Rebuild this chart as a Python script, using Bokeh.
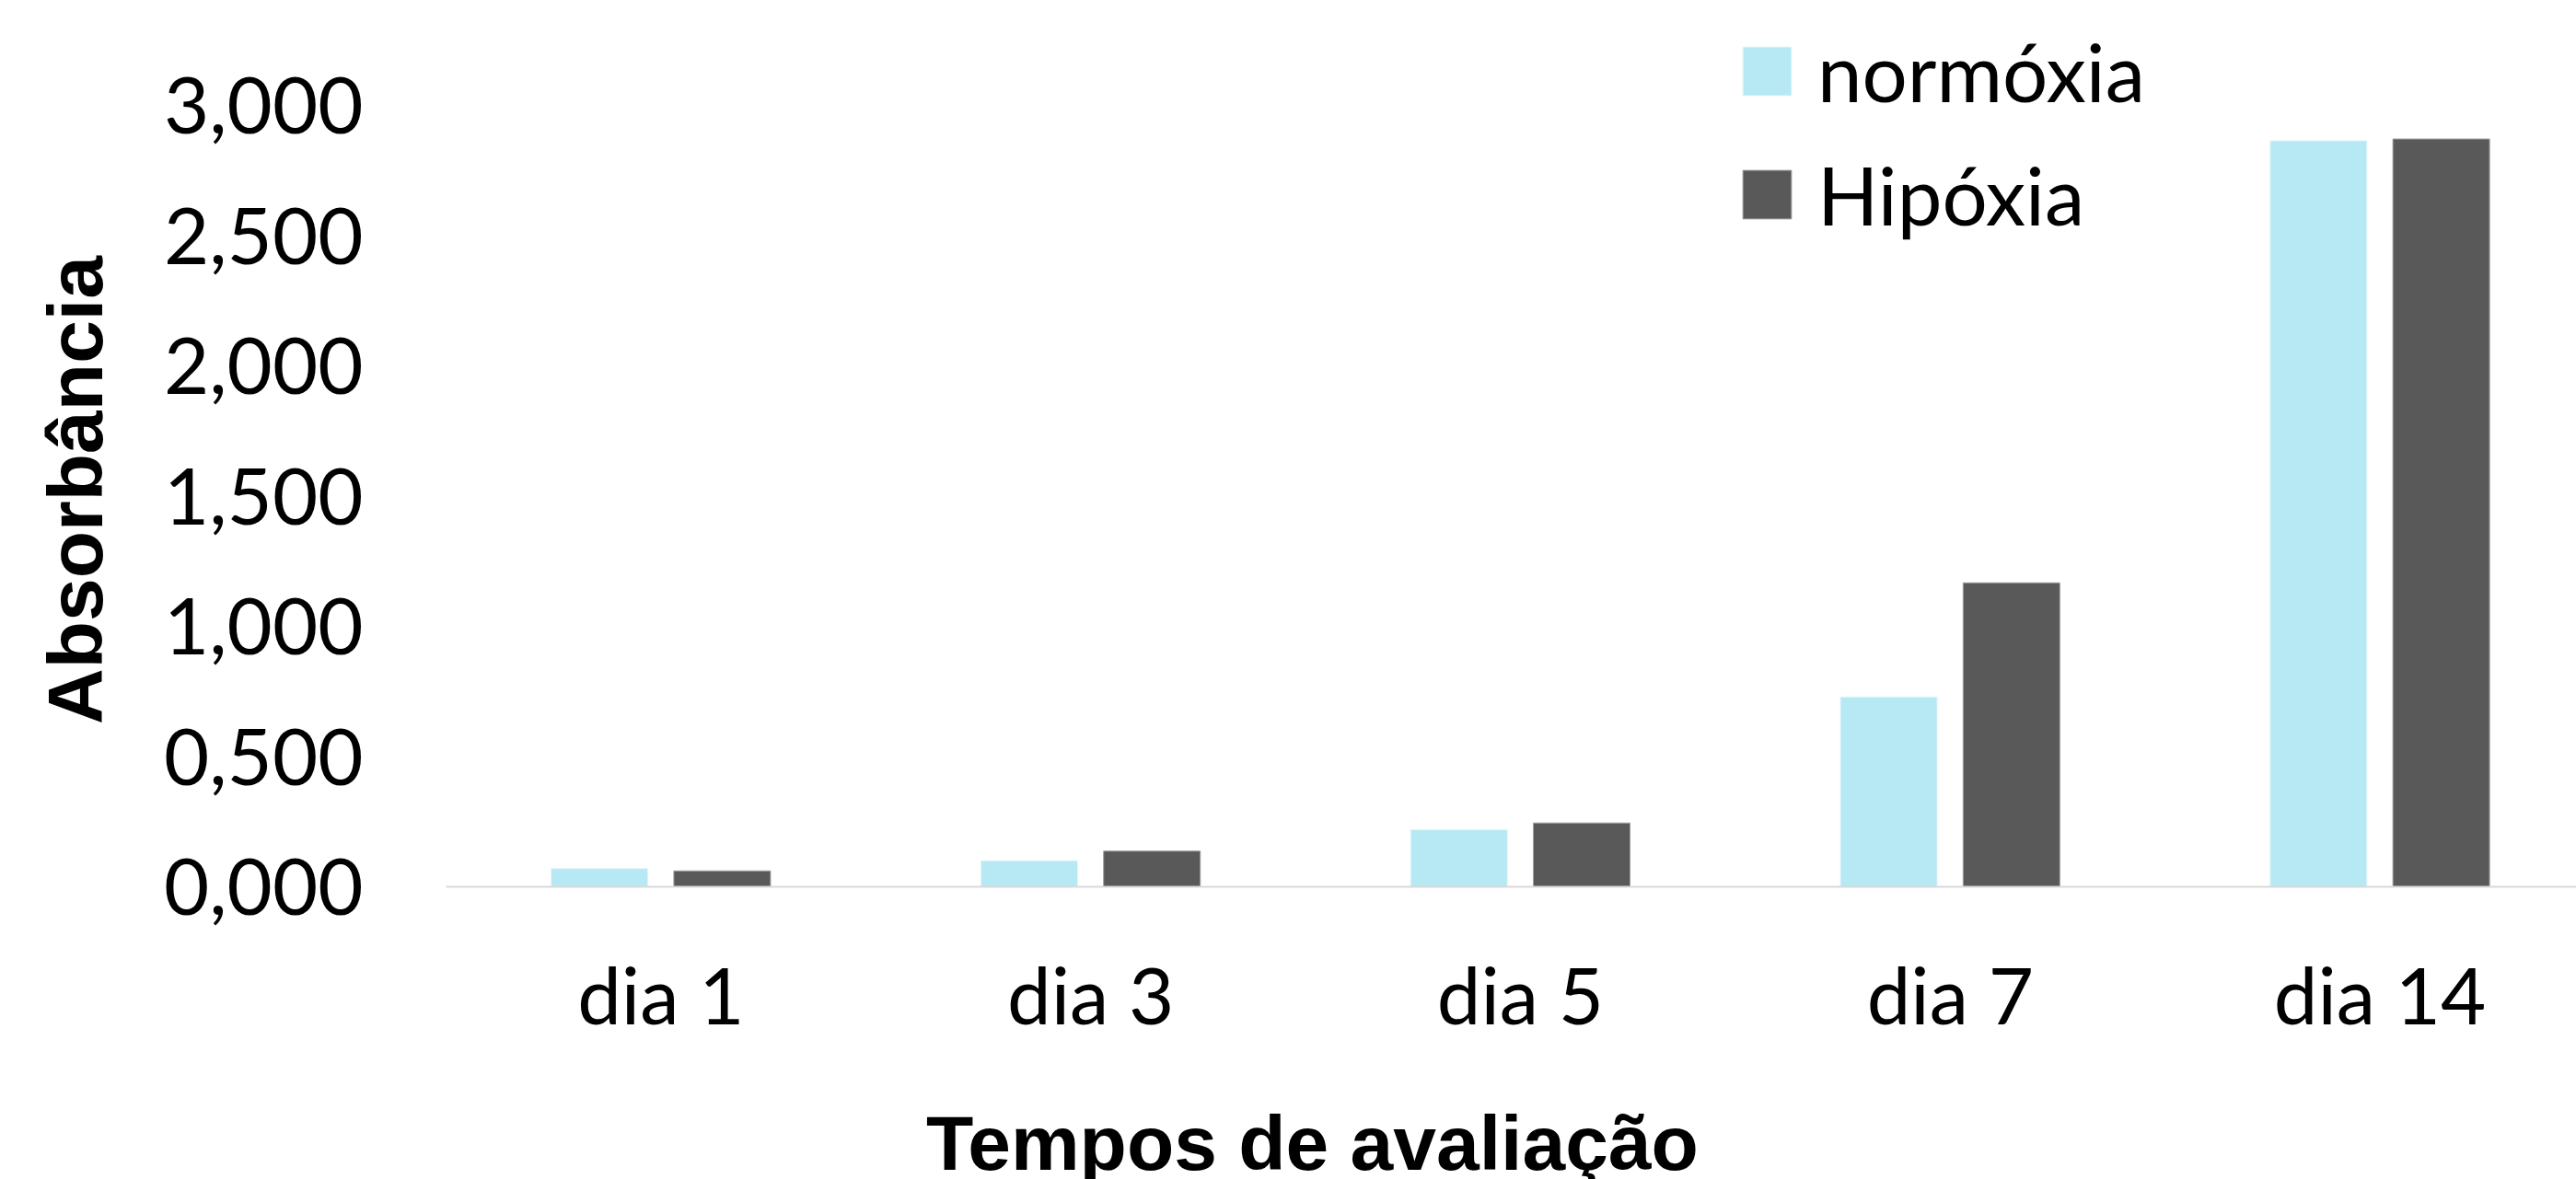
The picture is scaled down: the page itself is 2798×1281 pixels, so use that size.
import numpy as np
from bokeh.plotting import figure
from bokeh.models import ColumnDataSource, Range1d, FixedTicker, Legend, LegendItem, Label
from bokeh.transform import dodge
from bokeh.embed import file_html
from bokeh.resources import INLINE

# ---- data ----
categories = ["dia 1", "dia 3", "dia 5", "dia 7", "dia 14"]
normoxia = [0.070, 0.100, 0.219, 0.729, 2.864]
hipoxia = [0.061, 0.137, 0.245, 1.167, 2.871]
series_names = ["normóxia", "Hipóxia"]
y_ticks = [0.0, 0.5, 1.0, 1.5, 2.0, 2.5, 3.0]
y_tick_labels = ["0,000", "0,500", "1,000", "1,500", "2,000", "2,500", "3,000"]
x_title = "Tempos de avaliação"
y_title = "Absorbância"

pos = list(range(len(categories)))
src = ColumnDataSource(dict(pos=pos, normoxia=normoxia, hipoxia=hipoxia))

# ---- layout geometry (pixels) ----
W, H = 2798, 1281
PLOT_LEFT = 484        # pixel column where the category area starts
BASE_Y = 963           # pixel row of value 0
PX_PER_CAT = 466.8
PX_PER_UNIT = 283.0
X0 = -0.5 - PLOT_LEFT / PX_PER_CAT
X1 = -0.5 + (W - PLOT_LEFT) / PX_PER_CAT
Y0 = -(H - BASE_Y) / PX_PER_UNIT
Y1 = BASE_Y / PX_PER_UNIT

def px_to_x(px):
    return X0 + px / PX_PER_CAT

def py_to_y(py):
    return (BASE_Y - py) / PX_PER_UNIT

p = figure(width=W, height=H, output_backend="svg", toolbar_location=None,
           x_range=Range1d(X0, X1), y_range=Range1d(Y0, Y1),
           min_border_left=0, min_border_right=0, min_border_top=0,
           min_border_bottom=0, background_fill_color="white",
           border_fill_color="white", outline_line_color=None)

BLUE = "#B6E9F3"
DARK = "#595959"
r1 = p.vbar(x=dodge("pos", -0.143, range=p.x_range), top="normoxia", width=0.225,
            source=src, fill_color=BLUE, line_color="#E3F6FA", line_width=1)
r2 = p.vbar(x=dodge("pos", 0.1425, range=p.x_range), top="hipoxia", width=0.225,
            source=src, fill_color=DARK, line_color="#A0A0A0", line_width=1)

p.xgrid.visible = False
p.ygrid.visible = False

# x axis (drawn at value 0)
xa = p.xaxis[0]
xa.fixed_location = 0
xa.bounds = (-0.5, X1)
xa.ticker = FixedTicker(ticks=pos)
xa.major_label_overrides = {i: c for i, c in zip(pos, categories)}
xa.axis_line_color = "#D9D9D9"
xa.axis_line_width = 2
xa.major_tick_line_color = None
xa.minor_tick_line_color = None
xa.major_label_text_font = "Lato"
xa.major_label_text_font_size = "85px"
xa.major_label_text_color = "black"
xa.major_label_standoff = 59

# y axis (drawn at the left edge of the category area)
ya = p.yaxis[0]
ya.fixed_location = -0.5
ya.bounds = (0, y_ticks[-1])
ya.ticker = FixedTicker(ticks=y_ticks)
ya.major_label_overrides = {t: l for t, l in zip(y_ticks, y_tick_labels)}
ya.axis_line_color = None
ya.major_tick_line_color = None
ya.minor_tick_line_color = None
ya.major_label_text_font = "Lato"
ya.major_label_text_font_size = "85px"
ya.major_label_text_color = "black"
ya.major_label_standoff = 84

# axis titles
tx = Label(x=px_to_x(1425), y=py_to_y(1241), text=x_title, text_align="center",
           text_baseline="alphabetic", text_font="Liberation Sans",
           text_font_style="bold", text_font_size="84px", text_color="black")
p.add_layout(tx)
ty = Label(x=px_to_x(81), y=py_to_y(532), text=y_title, angle=90,
           angle_units="deg", text_align="center", text_baseline="alphabetic",
           text_font="Liberation Sans", text_font_style="bold",
           text_font_size="84px", text_color="black")
p.add_layout(ty)

legend = Legend(items=[LegendItem(label=series_names[0], renderers=[r1]),
                       LegendItem(label=series_names[1], renderers=[r2])],
                location=(1886, H - 263.5), label_text_font="Lato",
                label_text_font_size="87px", label_text_color="black",
                glyph_width=66, glyph_height=66, label_standoff=22,
                spacing=29, padding=0, margin=0, border_line_color=None,
                background_fill_alpha=0)
p.add_layout(legend)

open("out.html", "w").write(file_html(p, INLINE))
